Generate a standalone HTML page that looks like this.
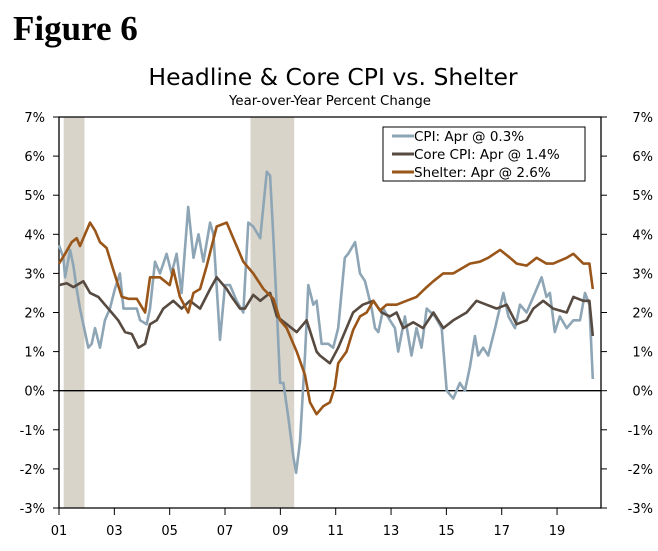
<!DOCTYPE html>
<html><head><meta charset="utf-8"><style>
body{margin:0;background:#fff;}
svg text{font-family:"DejaVu Sans","Liberation Sans",sans-serif;}
</style></head><body>
<svg width="658" height="546" viewBox="0 0 658 546" xmlns="http://www.w3.org/2000/svg">
<text x="13" y="40" style="font-family:'Liberation Serif',serif" font-weight="bold" font-size="35">Figure 6</text>
<text x="333" y="85" text-anchor="middle" font-size="23.5">Headline &amp; Core CPI vs. Shelter</text>
<text x="330" y="105" text-anchor="middle" font-size="13.3">Year-over-Year Percent Change</text>
<g id="plot"></g>
</svg>
<script>
const yTicks=[7,6,5,4,3,2,1,0,-1,-2,-3];
const xTickYears=[2001,2003,2005,2007,2009,2011,2013,2015,2017,2019];
const xTickLabels=["01","03","05","07","09","11","13","15","17","19"];
const recessions=[[2001.17,2001.92],[2007.92,2009.5]];
const cpiDates=[2001.0,2001.16,2001.22,2001.40,2001.52,2001.64,2001.76,2002.06,2002.18,2002.30,2002.48,2002.66,2002.84,2003.02,2003.20,2003.33,2003.57,2003.81,2003.93,2004.17,2004.29,2004.47,2004.65,2004.89,2005.07,2005.25,2005.43,2005.67,2005.86,2006.04,2006.22,2006.46,2006.58,2006.82,2007.0,2007.18,2007.42,2007.66,2007.84,2008.02,2008.27,2008.51,2008.63,2008.75,2008.87,2008.99,2009.11,2009.29,2009.47,2009.57,2009.71,2009.89,2010.01,2010.19,2010.31,2010.49,2010.73,2010.91,2011.09,2011.33,2011.45,2011.70,2011.88,2012.06,2012.30,2012.42,2012.54,2012.72,2012.96,2013.14,2013.26,2013.50,2013.74,2013.92,2014.10,2014.29,2014.59,2014.83,2015.01,2015.25,2015.49,2015.67,2015.85,2016.03,2016.15,2016.33,2016.51,2016.76,2017.06,2017.24,2017.48,2017.66,2017.90,2018.14,2018.44,2018.62,2018.74,2018.92,2019.10,2019.35,2019.59,2019.83,2020.01,2020.17,2020.29];
const cpiValues=[3.72,3.4,2.9,3.6,3.2,2.6,2.1,1.1,1.2,1.6,1.1,1.8,2.1,2.6,3.0,2.1,2.1,2.1,1.8,1.7,2.1,3.3,3.0,3.5,3.0,3.5,2.5,4.7,3.4,4.0,3.3,4.3,4.0,1.3,2.7,2.7,2.3,2.0,4.3,4.2,3.9,5.6,5.5,3.9,2.1,0.2,0.2,-0.7,-1.7,-2.1,-1.3,0.9,2.7,2.2,2.3,1.2,1.2,1.1,1.6,3.4,3.5,3.8,3.0,2.8,2.1,1.6,1.5,2.1,1.8,1.6,1.0,1.9,0.9,1.6,1.1,2.1,1.9,1.6,0.0,-0.2,0.2,0.0,0.6,1.4,0.9,1.1,0.9,1.6,2.5,1.9,1.6,2.2,2.0,2.4,2.9,2.4,2.5,1.5,1.9,1.6,1.8,1.8,2.5,2.2,0.3];
const coreDates=[2001.0,2001.28,2001.52,2001.88,2002.12,2002.42,2002.66,2002.90,2003.14,2003.39,2003.63,2003.87,2004.11,2004.29,2004.53,2004.77,2005.13,2005.43,2005.73,2006.10,2006.46,2006.70,2007.06,2007.24,2007.54,2007.72,2008.02,2008.27,2008.63,2008.87,2009.23,2009.59,2009.95,2010.31,2010.43,2010.79,2011.09,2011.33,2011.63,2011.98,2012.36,2012.66,2012.96,2013.20,2013.44,2013.80,2014.16,2014.53,2014.89,2015.25,2015.73,2016.09,2016.45,2016.82,2017.18,2017.54,2017.90,2018.14,2018.50,2018.86,2019.35,2019.59,2019.95,2020.17,2020.29];
const coreValues=[2.7,2.75,2.65,2.8,2.5,2.4,2.2,2.0,1.8,1.5,1.45,1.1,1.2,1.7,1.8,2.1,2.3,2.1,2.3,2.1,2.6,2.9,2.6,2.4,2.1,2.1,2.45,2.3,2.5,1.9,1.7,1.5,1.8,1.0,0.9,0.7,1.1,1.5,2.0,2.2,2.3,2.0,1.9,2.0,1.6,1.75,1.6,2.0,1.6,1.8,2.0,2.3,2.2,2.1,2.2,1.7,1.8,2.1,2.3,2.1,2.0,2.4,2.3,2.3,1.4];
const shelterDates=[2001.0,2001.22,2001.46,2001.64,2001.76,2001.88,2002.12,2002.30,2002.48,2002.72,2002.96,2003.27,2003.51,2003.81,2004.11,2004.29,2004.65,2005.0,2005.13,2005.37,2005.67,2005.86,2006.10,2006.34,2006.70,2007.06,2007.30,2007.66,2008.02,2008.39,2008.75,2008.99,2009.23,2009.59,2009.89,2010.07,2010.31,2010.55,2010.79,2010.97,2011.09,2011.39,2011.63,2011.88,2012.12,2012.36,2012.60,2012.84,2013.20,2013.56,2013.92,2014.29,2014.53,2014.89,2015.25,2015.49,2015.85,2016.21,2016.51,2016.94,2017.30,2017.54,2017.90,2018.26,2018.62,2018.86,2019.35,2019.59,2019.95,2020.17,2020.29];
const shelterValues=[3.25,3.5,3.8,3.9,3.7,3.9,4.3,4.1,3.8,3.65,3.1,2.4,2.35,2.35,2.0,2.9,2.9,2.7,3.1,2.4,2.0,2.5,2.6,3.2,4.2,4.3,3.9,3.3,3.0,2.6,2.35,1.8,1.6,1.0,0.4,-0.3,-0.6,-0.4,-0.3,0.1,0.7,1.0,1.55,1.9,2.0,2.3,2.05,2.2,2.2,2.3,2.4,2.65,2.8,3.0,3.0,3.1,3.25,3.3,3.4,3.6,3.4,3.25,3.2,3.4,3.25,3.25,3.4,3.5,3.25,3.25,2.6];

const NS="http://www.w3.org/2000/svg";
const L=59,R=601,T=117,B=508;
const x0=2001,pxPerYear=27.67;
const X=y=>L+(y-x0)*pxPerYear;
const Y=v=>T+(7-v)*(B-T)/10;
const g=document.getElementById('plot');
function mk(tag,attrs,txt){const e=document.createElementNS(NS,tag);for(const k in attrs)e.setAttribute(k,attrs[k]);if(txt!==undefined)e.textContent=txt;g.appendChild(e);return e;}

recessions.forEach(r=>{
 const e=mk('rect',{x:X(r[0]),y:T,width:X(r[1])-X(r[0]),height:B-T,fill:'#d8d4ca'});
 
 
});
const zl=mk('line',{x1:L,x2:R,y1:Y(0),y2:Y(0),stroke:'#000','stroke-width':1.3});


const frame=mk('path',{d:`M${L},${T}H${R}V${B}H${L}Z`,fill:'none',stroke:'#000','stroke-width':1.3});


yTicks.forEach(v=>{
 mk('line',{x1:L-6,x2:L,y1:Y(v),y2:Y(v),stroke:'#000'});
 mk('line',{x1:R,x2:R+6,y1:Y(v),y2:Y(v),stroke:'#000'});
 const a=mk('text',{x:45,y:Y(v)+5,'text-anchor':'end','font-size':13},v+'%');
 
 
 const b=mk('text',{x:653,y:Y(v)+5,'text-anchor':'end','font-size':13},v+'%');
 
 
});
xTickYears.forEach((yr,i)=>{
 mk('line',{x1:X(yr),x2:X(yr),y1:B,y2:B+7,stroke:'#000'});
 const t=mk('text',{x:X(yr),y:535,'text-anchor':'middle','font-size':13},xTickLabels[i]);
 
 
});
function series(d,v,color,name){
 const p=mk('path',{d:d.map((t,i)=>(i?'L':'M')+X(t).toFixed(1)+','+Y(v[i]).toFixed(1)).join(''),fill:'none',stroke:color,'stroke-width':2.6,'stroke-linejoin':'round'});
 
 
}
series(cpiDates,cpiValues,'#8da5b5','cpi-line');
series(coreDates,coreValues,'#574a40','core-cpi-line');
series(shelterDates,shelterValues,'#9a5518','shelter-line');

const lg=mk('rect',{x:383,y:127,width:202,height:54,fill:'#fff',stroke:'#000','stroke-width':1});


[['CPI: Apr @ 0.3%','#8da5b5'],['Core CPI: Apr @ 1.4%','#574a40'],['Shelter: Apr @ 2.6%','#9a5518']].forEach((e,i)=>{
 const y=135+i*18;
 mk('line',{x1:392,x2:414,y1:y+1,y2:y+1,stroke:e[1],'stroke-width':3});
 const t=mk('text',{x:414,y:y+6,'font-size':13.5},e[0]);
 
 
});
</script>
</body></html>
